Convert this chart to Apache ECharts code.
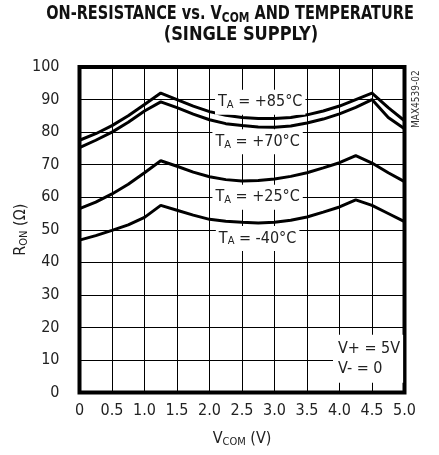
<!DOCTYPE html>
<html>
<head>
<meta charset="utf-8">
<script src="https://cdn.jsdelivr.net/npm/echarts@6/dist/echarts.min.js"></script>
<style>
  html, body {margin: 0; padding: 0; background: #fff;}
  #chart {width: 439px; height: 455px;}
</style>
</head>
<body>
<div id="chart"></div>
<script>
const FONT = '"DejaVu Sans Condensed", "Liberation Sans", sans-serif';

// V_COM (V)
const vcom = [0, 0.25, 0.5, 0.75, 1.0, 1.25, 1.5, 1.75, 2.0, 2.25, 2.5,
  2.75, 3.0, 3.25, 3.5, 3.75, 4.0, 4.25, 4.5, 4.75, 5.0];

// R_ON (ohm) per temperature
const ron85 = [77.5, 79.5, 82, 85, 88.5, 92, 90, 88, 86.3, 85.2, 84.5,
  84.2, 84.2, 84.5, 85.3, 86.5, 88, 90, 92, 87.5, 83.5];
const ron70 = [75.2, 77.5, 80, 83, 86.5, 89.3, 87.5, 85.5, 83.8, 82.6, 82,
  81.6, 81.5, 81.9, 82.8, 84, 85.6, 87.6, 90, 84.5, 81];
const ron25 = [56.5, 58.5, 61, 64, 67.5, 71.2, 69.5, 67.7, 66.3, 65.4, 65,
  65.1, 65.6, 66.4, 67.5, 69, 70.6, 72.8, 70.5, 67.5, 64.8];
const ronM40 = [46.8, 48.2, 49.8, 51.5, 53.8, 57.5, 56, 54.5, 53.2, 52.6, 52.3,
  52.1, 52.3, 52.9, 53.9, 55.4, 57, 59.2, 57.5, 55, 52.5];

const curveNames = ['+85°C', '+70°C', '+25°C', '-40°C'];
const curves = [ron85, ron70, ron25, ronM40];
// where each T_A label sits, in data coords [V, ohm]
const labelAt = [[2.78, 89.2], [2.74, 77], [2.74, 60], [2.74, 47.3]];
// left edge of the supply note
const noteAt = [3.9, 10.4];

const chart = echarts.init(document.getElementById('chart'));

const sub = {fontSize: 11, verticalAlign: 'bottom', padding: [6, 0, 0, 0], fontFamily: FONT, color: '#222'};
const txt = {fontSize: 16, fontFamily: FONT, color: '#222'};

const series = curves.map((vals, i) => ({
  type: 'line',
  data: vcom.map((v, j) => [v, vals[j]]),
  symbol: 'none',
  lineStyle: {color: '#000', width: 3},
  z: 3,
  markPoint: {
    symbol: 'rect',
    symbolSize: 0,
    z: 5,
    data: [{coord: labelAt[i]}],
    label: {
      show: true,
      position: 'inside',
      formatter: '{t|T}{s|A}{t| = ' + curveNames[i] + '}',
      backgroundColor: '#fff',
      padding: [4, 3, 4, 3],
      rich: {t: txt, s: sub}
    }
  }
}));

// supply note
series[3].markPoint.data.push({
  coord: noteAt,
  label: {
    show: true,
    position: 'right',
    distance: 0,
    formatter: 'V+ = 5V\nV- = 0',
    backgroundColor: '#fff',
    padding: [4, 3, 4, 5],
    lineHeight: 20,
    fontSize: 16,
    fontFamily: FONT,
    color: '#222'
  }
});

const titleRich = {
  b: {fontSize: 19, fontWeight: 'bold', fontFamily: FONT, fill: '#111', color: '#111'},
  bs: {fontSize: 14, fontWeight: 'bold', fontFamily: FONT, fill: '#111', color: '#111', verticalAlign: 'bottom', padding: [8, 0, 0, 0]}
};

chart.setOption({
  animation: false,
  backgroundColor: '#fff',
  graphic: [{
    type: 'text',
    x: 230, y: 3,
    scaleX: 0.85,
    style: {
      text: '{b|ON-RESISTANCE vs. V}{bs|COM}{b| AND TEMPERATURE}',
      rich: titleRich,
      align: 'center'
    }
  }, {
    type: 'text',
    x: 241, y: 26,
    scaleX: 0.95,
    style: {
      text: '(SINGLE SUPPLY)',
      fontSize: 19, fontWeight: 'bold', fontFamily: FONT, fill: '#111',
      align: 'center'
    }
  }, {
    type: 'text',
    x: 411,
    y: 128,
    rotation: Math.PI / 2,
    style: {text: 'MAX4539-02', fontSize: 10, fontFamily: FONT, fill: '#333'}
  }],
  grid: {
    left: 79.5, right: 34.5, top: 67, bottom: 62.5,
    outerBoundsMode: 'none',
    show: true, borderColor: '#000', borderWidth: 4
  },
  xAxis: {
    type: 'value',
    min: 0, max: 5, interval: 0.5,
    name: '{t|V}{s|COM}{t| (V)}',
    nameLocation: 'middle',
    nameGap: 38,
    nameTextStyle: {rich: {t: txt, s: sub}},
    axisLine: {show: false},
    axisTick: {show: false},
    axisLabel: {
      margin: 10, fontSize: 16, fontFamily: FONT, color: '#222',
      formatter: v => (v === 0 ? '0' : v.toFixed(1))
    },
    splitLine: {show: true, lineStyle: {color: '#000', width: 1}}
  },
  yAxis: {
    type: 'value',
    min: 0, max: 100, interval: 10,
    name: '{t|R}{s|ON}{t| (Ω)}',
    nameLocation: 'middle',
    nameGap: 50,
    nameMoveOverlap: false,
    nameRotate: 90,
    nameTextStyle: {rich: {t: txt, s: sub}},
    axisLine: {show: false},
    axisTick: {show: false},
    axisLabel: {margin: 20, fontSize: 16, fontFamily: FONT, color: '#222'},
    splitLine: {show: true, lineStyle: {color: '#000', width: 1}}
  },
  series
});
</script>
</body>
</html>
